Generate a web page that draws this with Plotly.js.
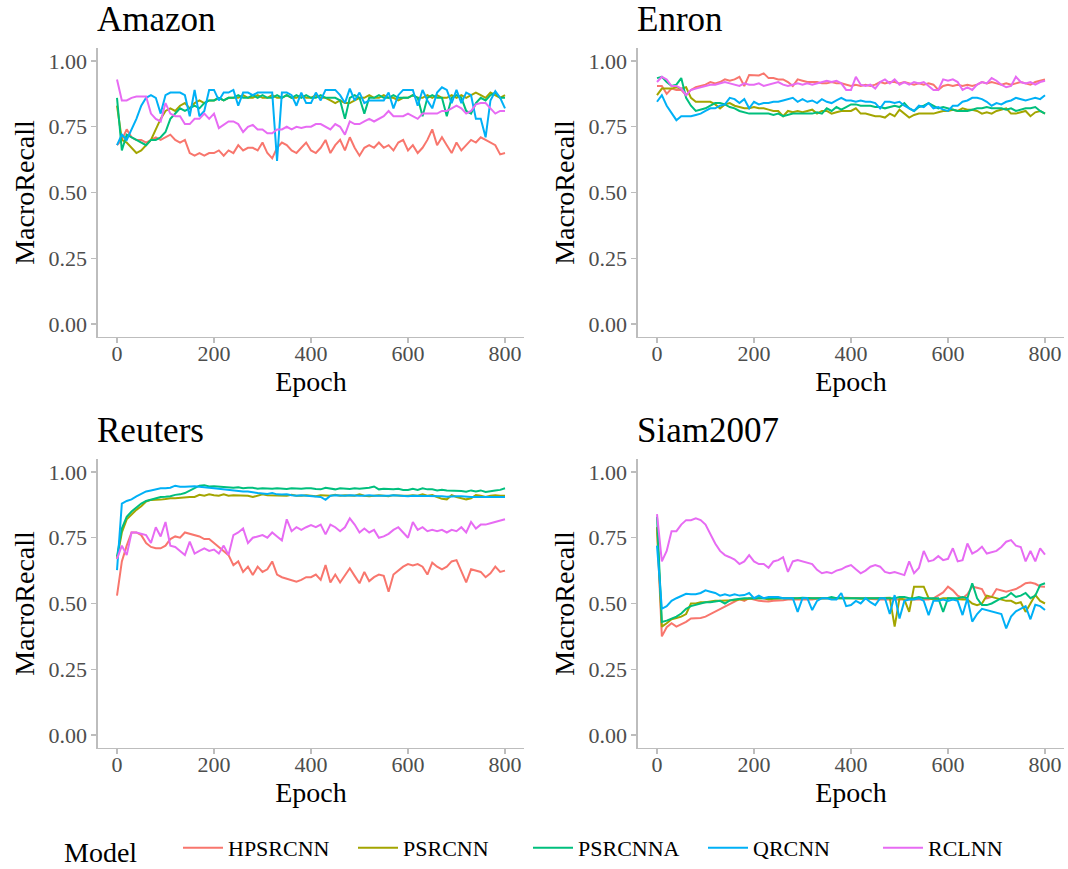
<!DOCTYPE html>
<html>
<head>
<meta charset="utf-8">
<script src="https://cdn.plot.ly/plotly-3.0.1.min.js"></script>
<style>html,body{margin:0;padding:0;background:#fff;}#chart{width:1068px;height:869px;}</style>
</head>
<body>
<div id="chart"></div>
<script>
const epochs = [0,10,20,30,40,50,60,70,80,90,100,110,120,130,140,150,160,170,180,190,200,210,220,230,240,250,260,270,280,290,300,310,320,330,340,350,360,370,380,390,400,410,420,430,440,450,460,470,480,490,500,510,520,530,540,550,560,570,580,590,600,610,620,630,640,650,660,670,680,690,700,710,720,730,740,750,760,770,780,790,800];
const models = ["HPSRCNN","PSRCNN","PSRCNNA","QRCNN","RCLNN"];
const datasets = ["Amazon","Enron","Reuters","Siam2007"];
const xTicks = [0,200,400,600,800];
const yTicks = [0,0.25,0.5,0.75,1];
const yTickText = ["0.00","0.25","0.50","0.75","1.00"];

// Amazon
const amazon_HPSRCNN = [0.68,0.70,0.74,0.71,0.70,0.70,0.69,0.70,0.71,0.70,0.71,0.72,0.70,0.69,0.70,0.65,0.64,0.65,0.64,0.65,0.65,0.66,0.64,0.66,0.65,0.68,0.66,0.67,0.67,0.66,0.69,0.65,0.63,0.67,0.69,0.68,0.66,0.65,0.67,0.69,0.66,0.65,0.67,0.70,0.65,0.68,0.70,0.66,0.71,0.67,0.64,0.67,0.68,0.67,0.69,0.67,0.68,0.66,0.69,0.70,0.66,0.68,0.65,0.67,0.70,0.74,0.68,0.71,0.68,0.65,0.69,0.66,0.68,0.70,0.69,0.71,0.70,0.69,0.68,0.645,0.65];
const amazon_PSRCNN = [0.83,0.70,0.69,0.67,0.65,0.66,0.68,0.70,0.74,0.78,0.81,0.82,0.81,0.83,0.84,0.82,0.84,0.85,0.84,0.85,0.85,0.86,0.85,0.86,0.86,0.86,0.87,0.86,0.86,0.87,0.86,0.86,0.87,0.86,0.86,0.87,0.86,0.86,0.87,0.86,0.86,0.87,0.86,0.86,0.85,0.84,0.85,0.84,0.84,0.85,0.86,0.86,0.87,0.86,0.86,0.87,0.86,0.86,0.85,0.86,0.86,0.87,0.86,0.86,0.87,0.86,0.87,0.86,0.86,0.87,0.86,0.87,0.86,0.87,0.88,0.87,0.86,0.88,0.87,0.86,0.87];
const amazon_PSRCNNA = [0.86,0.66,0.72,0.71,0.70,0.69,0.68,0.70,0.70,0.71,0.73,0.78,0.80,0.82,0.81,0.82,0.83,0.82,0.84,0.85,0.85,0.86,0.85,0.86,0.86,0.87,0.86,0.86,0.87,0.86,0.87,0.86,0.86,0.87,0.86,0.87,0.86,0.87,0.86,0.87,0.86,0.86,0.87,0.86,0.86,0.86,0.85,0.78,0.86,0.87,0.86,0.80,0.86,0.86,0.87,0.86,0.86,0.87,0.86,0.86,0.86,0.87,0.86,0.79,0.86,0.87,0.86,0.86,0.79,0.86,0.87,0.86,0.81,0.80,0.84,0.86,0.85,0.87,0.88,0.86,0.86];
const amazon_QRCNN = [0.68,0.72,0.70,0.74,0.78,0.83,0.86,0.87,0.86,0.80,0.87,0.88,0.88,0.88,0.87,0.79,0.89,0.79,0.81,0.89,0.89,0.85,0.88,0.88,0.89,0.83,0.88,0.88,0.87,0.88,0.88,0.88,0.88,0.62,0.88,0.88,0.87,0.83,0.88,0.84,0.84,0.88,0.85,0.89,0.89,0.89,0.87,0.84,0.895,0.85,0.88,0.84,0.85,0.85,0.85,0.85,0.88,0.82,0.87,0.89,0.89,0.89,0.83,0.89,0.85,0.82,0.88,0.90,0.89,0.84,0.89,0.84,0.88,0.87,0.78,0.78,0.71,0.85,0.885,0.86,0.82];
const amazon_RCLNN = [0.93,0.85,0.85,0.86,0.865,0.865,0.865,0.80,0.78,0.77,0.84,0.80,0.79,0.79,0.76,0.76,0.78,0.78,0.80,0.78,0.80,0.745,0.757,0.77,0.77,0.76,0.73,0.75,0.757,0.74,0.74,0.725,0.725,0.74,0.74,0.75,0.74,0.75,0.745,0.75,0.75,0.76,0.76,0.75,0.74,0.76,0.75,0.72,0.77,0.76,0.76,0.77,0.78,0.77,0.78,0.79,0.81,0.79,0.79,0.79,0.80,0.79,0.78,0.80,0.80,0.80,0.80,0.81,0.81,0.82,0.83,0.82,0.80,0.81,0.835,0.84,0.84,0.82,0.80,0.81,0.81];

// Enron
const enron_HPSRCNN = [0.905,0.905,0.875,0.895,0.89,0.89,0.87,0.89,0.90,0.905,0.91,0.92,0.915,0.92,0.93,0.925,0.93,0.94,0.905,0.947,0.947,0.945,0.953,0.935,0.935,0.93,0.93,0.92,0.905,0.93,0.925,0.92,0.92,0.92,0.915,0.915,0.92,0.915,0.915,0.91,0.905,0.91,0.905,0.91,0.905,0.91,0.92,0.915,0.92,0.92,0.915,0.92,0.915,0.91,0.915,0.91,0.915,0.91,0.89,0.905,0.91,0.905,0.91,0.905,0.91,0.905,0.91,0.92,0.915,0.92,0.915,0.91,0.915,0.91,0.915,0.92,0.915,0.91,0.92,0.925,0.93];
const enron_PSRCNN = [0.87,0.895,0.895,0.895,0.90,0.895,0.90,0.86,0.845,0.845,0.845,0.845,0.835,0.82,0.835,0.84,0.83,0.825,0.82,0.82,0.825,0.82,0.82,0.815,0.81,0.81,0.79,0.81,0.805,0.81,0.805,0.81,0.815,0.80,0.81,0.81,0.80,0.805,0.81,0.81,0.81,0.82,0.80,0.80,0.795,0.79,0.79,0.785,0.80,0.79,0.815,0.80,0.785,0.795,0.80,0.80,0.80,0.80,0.805,0.81,0.81,0.815,0.81,0.82,0.815,0.815,0.81,0.80,0.805,0.80,0.81,0.815,0.82,0.80,0.80,0.805,0.81,0.79,0.805,0.81,0.80];
const enron_PSRCNNA = [0.935,0.94,0.92,0.905,0.91,0.935,0.86,0.83,0.81,0.815,0.82,0.83,0.84,0.84,0.835,0.825,0.82,0.81,0.805,0.80,0.80,0.80,0.80,0.80,0.795,0.80,0.79,0.795,0.80,0.80,0.80,0.80,0.80,0.805,0.80,0.82,0.81,0.825,0.815,0.825,0.835,0.835,0.83,0.83,0.83,0.825,0.825,0.82,0.825,0.83,0.825,0.84,0.82,0.81,0.825,0.83,0.84,0.83,0.82,0.825,0.82,0.815,0.81,0.81,0.81,0.815,0.82,0.82,0.825,0.82,0.82,0.82,0.815,0.82,0.81,0.815,0.82,0.82,0.825,0.81,0.80];
const enron_QRCNN = [0.845,0.87,0.83,0.80,0.775,0.79,0.79,0.79,0.795,0.80,0.81,0.82,0.82,0.83,0.835,0.86,0.855,0.84,0.855,0.82,0.845,0.835,0.84,0.84,0.845,0.845,0.85,0.855,0.86,0.845,0.855,0.845,0.85,0.84,0.855,0.845,0.84,0.85,0.86,0.85,0.85,0.845,0.85,0.845,0.845,0.84,0.82,0.845,0.845,0.84,0.845,0.83,0.82,0.81,0.83,0.825,0.84,0.82,0.825,0.815,0.81,0.83,0.83,0.845,0.85,0.86,0.86,0.855,0.845,0.83,0.84,0.835,0.845,0.85,0.86,0.855,0.85,0.855,0.86,0.855,0.87];
const enron_RCLNN = [0.92,0.94,0.93,0.905,0.905,0.895,0.87,0.89,0.895,0.90,0.905,0.91,0.91,0.915,0.92,0.915,0.91,0.905,0.915,0.91,0.91,0.915,0.905,0.91,0.915,0.92,0.91,0.905,0.91,0.915,0.91,0.915,0.91,0.915,0.92,0.925,0.92,0.925,0.915,0.89,0.89,0.94,0.91,0.905,0.91,0.895,0.92,0.93,0.915,0.93,0.91,0.92,0.91,0.92,0.915,0.92,0.905,0.89,0.89,0.93,0.925,0.93,0.92,0.89,0.90,0.89,0.91,0.92,0.915,0.935,0.925,0.91,0.90,0.905,0.94,0.92,0.915,0.92,0.91,0.92,0.925];

// Reuters
const reuters_HPSRCNN = [0.53,0.66,0.72,0.77,0.77,0.76,0.73,0.715,0.71,0.71,0.72,0.745,0.755,0.75,0.77,0.765,0.76,0.755,0.745,0.745,0.73,0.715,0.70,0.684,0.646,0.66,0.62,0.64,0.608,0.64,0.62,0.63,0.66,0.61,0.60,0.595,0.59,0.583,0.59,0.60,0.60,0.61,0.59,0.646,0.58,0.61,0.58,0.605,0.634,0.605,0.577,0.62,0.585,0.60,0.61,0.605,0.545,0.61,0.625,0.64,0.65,0.645,0.65,0.64,0.61,0.655,0.64,0.63,0.64,0.66,0.665,0.62,0.58,0.63,0.625,0.62,0.60,0.615,0.64,0.62,0.625];
const reuters_PSRCNN = [0.67,0.77,0.82,0.84,0.856,0.87,0.888,0.894,0.894,0.895,0.897,0.90,0.90,0.902,0.904,0.905,0.905,0.913,0.91,0.915,0.912,0.91,0.915,0.91,0.912,0.912,0.91,0.91,0.905,0.91,0.915,0.912,0.912,0.91,0.912,0.91,0.913,0.91,0.91,0.912,0.91,0.908,0.912,0.91,0.91,0.913,0.91,0.912,0.91,0.91,0.915,0.91,0.908,0.91,0.912,0.91,0.908,0.912,0.91,0.91,0.91,0.912,0.91,0.915,0.91,0.912,0.905,0.898,0.896,0.912,0.905,0.90,0.896,0.90,0.912,0.91,0.905,0.91,0.912,0.91,0.91];
const reuters_PSRCNNA = [0.678,0.785,0.83,0.85,0.865,0.88,0.89,0.895,0.90,0.905,0.906,0.908,0.913,0.915,0.92,0.93,0.94,0.948,0.95,0.945,0.946,0.944,0.944,0.942,0.94,0.942,0.938,0.94,0.94,0.936,0.938,0.937,0.936,0.938,0.936,0.935,0.938,0.936,0.936,0.938,0.938,0.935,0.934,0.94,0.936,0.934,0.938,0.936,0.935,0.938,0.936,0.938,0.94,0.945,0.934,0.936,0.935,0.934,0.936,0.932,0.932,0.936,0.932,0.938,0.934,0.934,0.93,0.932,0.93,0.93,0.928,0.928,0.925,0.93,0.926,0.93,0.924,0.928,0.93,0.932,0.938];
const reuters_QRCNN = [0.627,0.88,0.89,0.896,0.907,0.915,0.926,0.93,0.935,0.938,0.938,0.94,0.948,0.944,0.944,0.946,0.946,0.944,0.943,0.94,0.938,0.936,0.934,0.93,0.93,0.928,0.926,0.926,0.922,0.92,0.918,0.916,0.92,0.915,0.914,0.915,0.912,0.91,0.912,0.91,0.91,0.908,0.905,0.894,0.91,0.912,0.91,0.91,0.912,0.91,0.91,0.91,0.912,0.91,0.91,0.908,0.91,0.912,0.91,0.91,0.908,0.91,0.91,0.908,0.91,0.91,0.91,0.908,0.906,0.908,0.908,0.908,0.906,0.905,0.905,0.906,0.905,0.905,0.905,0.905,0.905];
const reuters_RCLNN = [0.67,0.72,0.684,0.77,0.77,0.765,0.76,0.73,0.79,0.755,0.81,0.72,0.715,0.70,0.684,0.735,0.69,0.70,0.71,0.70,0.705,0.69,0.72,0.684,0.76,0.77,0.785,0.73,0.75,0.755,0.76,0.75,0.77,0.755,0.74,0.82,0.775,0.79,0.78,0.79,0.798,0.79,0.80,0.763,0.80,0.79,0.775,0.79,0.824,0.80,0.77,0.785,0.77,0.78,0.75,0.755,0.765,0.78,0.79,0.77,0.75,0.81,0.78,0.79,0.775,0.78,0.775,0.78,0.77,0.78,0.775,0.79,0.77,0.81,0.785,0.80,0.80,0.805,0.81,0.815,0.82];

// Siam2007
const siam_HPSRCNN = [0.79,0.375,0.41,0.425,0.412,0.42,0.43,0.443,0.445,0.445,0.45,0.46,0.47,0.478,0.49,0.50,0.51,0.517,0.51,0.52,0.515,0.51,0.509,0.508,0.51,0.51,0.512,0.515,0.515,0.515,0.515,0.515,0.515,0.518,0.52,0.52,0.52,0.522,0.522,0.522,0.52,0.52,0.52,0.518,0.518,0.516,0.515,0.515,0.514,0.514,0.514,0.515,0.516,0.514,0.515,0.514,0.515,0.52,0.53,0.542,0.564,0.55,0.53,0.52,0.535,0.564,0.56,0.555,0.52,0.525,0.555,0.55,0.545,0.55,0.555,0.565,0.577,0.58,0.575,0.565,0.564];
const siam_PSRCNN = [0.79,0.412,0.425,0.44,0.445,0.45,0.46,0.50,0.50,0.505,0.505,0.508,0.51,0.51,0.51,0.512,0.512,0.515,0.515,0.518,0.52,0.52,0.52,0.515,0.518,0.52,0.52,0.52,0.52,0.52,0.52,0.52,0.52,0.52,0.52,0.522,0.522,0.52,0.52,0.52,0.52,0.52,0.518,0.52,0.52,0.52,0.52,0.52,0.522,0.412,0.52,0.515,0.468,0.564,0.564,0.564,0.52,0.515,0.515,0.52,0.52,0.518,0.515,0.515,0.515,0.50,0.494,0.50,0.53,0.525,0.52,0.515,0.51,0.51,0.50,0.505,0.468,0.50,0.532,0.51,0.50];
const siam_PSRCNNA = [0.83,0.43,0.435,0.443,0.45,0.462,0.48,0.49,0.495,0.50,0.505,0.505,0.508,0.51,0.50,0.512,0.515,0.518,0.52,0.52,0.52,0.52,0.52,0.52,0.518,0.52,0.52,0.52,0.52,0.52,0.522,0.52,0.52,0.52,0.52,0.52,0.525,0.52,0.52,0.52,0.52,0.52,0.52,0.52,0.522,0.52,0.52,0.52,0.52,0.52,0.525,0.525,0.52,0.52,0.525,0.52,0.52,0.52,0.52,0.468,0.52,0.52,0.52,0.525,0.52,0.577,0.52,0.494,0.494,0.50,0.51,0.52,0.525,0.54,0.525,0.53,0.54,0.52,0.53,0.57,0.577];
const siam_QRCNN = [0.72,0.48,0.49,0.51,0.52,0.53,0.537,0.535,0.535,0.54,0.55,0.545,0.54,0.53,0.535,0.53,0.535,0.53,0.532,0.54,0.52,0.53,0.52,0.525,0.525,0.525,0.52,0.52,0.52,0.468,0.52,0.52,0.475,0.51,0.52,0.52,0.515,0.515,0.54,0.49,0.494,0.51,0.50,0.52,0.505,0.494,0.52,0.52,0.46,0.532,0.443,0.51,0.515,0.515,0.52,0.51,0.456,0.51,0.51,0.515,0.51,0.515,0.51,0.456,0.52,0.431,0.46,0.48,0.475,0.47,0.465,0.46,0.405,0.45,0.47,0.48,0.49,0.44,0.495,0.49,0.475];
const siam_RCLNN = [0.84,0.66,0.70,0.775,0.775,0.80,0.817,0.817,0.824,0.817,0.80,0.766,0.728,0.70,0.684,0.676,0.667,0.65,0.66,0.684,0.66,0.65,0.65,0.636,0.66,0.665,0.676,0.62,0.66,0.665,0.66,0.655,0.65,0.628,0.615,0.62,0.615,0.625,0.63,0.64,0.646,0.63,0.615,0.625,0.64,0.646,0.64,0.62,0.615,0.62,0.615,0.608,0.66,0.615,0.635,0.70,0.66,0.665,0.68,0.665,0.67,0.71,0.66,0.665,0.728,0.69,0.70,0.716,0.69,0.695,0.70,0.715,0.735,0.741,0.72,0.715,0.66,0.70,0.66,0.71,0.686];

const seriesByDataset = [
  [amazon_HPSRCNN, amazon_PSRCNN, amazon_PSRCNNA, amazon_QRCNN, amazon_RCLNN],
  [enron_HPSRCNN, enron_PSRCNN, enron_PSRCNNA, enron_QRCNN, enron_RCLNN],
  [reuters_HPSRCNN, reuters_PSRCNN, reuters_PSRCNNA, reuters_QRCNN, reuters_RCLNN],
  [siam_HPSRCNN, siam_PSRCNN, siam_PSRCNNA, siam_QRCNN, siam_RCLNN]
];

const colors = ["#F8766D","#A3A500","#00BF7D","#00B0F6","#E76BF3"];
const FONT = "Liberation Serif, Times New Roman, serif";
const W = 1068, H = 869;

// panel pixel boxes [x0,x1,y0(top),y1(bottom)]
const panels = [
  [97.6, 524.4, 47.85, 337.15],
  [637.6, 1064.4, 47.85, 337.15],
  [97.6, 524.4, 458.85, 748.15],
  [637.6, 1064.4, 458.85, 748.15]
];

const traces = [];
datasets.forEach((ds, p) => {
  const ax = p === 0 ? "" : String(p + 1);
  models.forEach((m, k) => {
    traces.push({
      type: "scatter", mode: "lines",
      x: epochs, y: seriesByDataset[p][k],
      xaxis: "x" + ax, yaxis: "y" + ax,
      name: m, legendgroup: m, showlegend: p === 0,
      line: {color: colors[k], width: 2},
      hoverinfo: "skip"
    });
  });
});

const layout = {
  width: W, height: H,
  margin: {l: 0, r: 0, t: 0, b: 0},
  paper_bgcolor: "#ffffff", plot_bgcolor: "#ffffff",
  font: {family: FONT, color: "#000000"},
  showlegend: true,
  legend: {
    orientation: "h",
    x: 178 / W, xanchor: "left", y: 0, yanchor: "bottom",
    font: {size: 22, family: FONT, color: "#000000"},
    itemwidth: 40, entrywidth: 120, entrywidthmode: "pixels", tracegroupgap: 0,
    bgcolor: "rgba(0,0,0,0)"
  },
  annotations: [{
    text: "Model", xref: "paper", yref: "paper",
    x: 62 / W, xanchor: "left", y: 1 - 852 / H, yanchor: "middle",
    showarrow: false, font: {size: 28, family: FONT, color: "#000000"}
  }],
  shapes: []
};

panels.forEach((b, p) => {
  const ax = p === 0 ? "" : String(p + 1);
  layout["xaxis" + ax] = {
    domain: [b[0] / W, b[1] / W],
    anchor: "y" + ax,
    range: [-40, 840],
    tickvals: xTicks, ticktext: xTicks.map(String),
    ticks: "outside", ticklen: 5, tickwidth: 1.1, tickcolor: "#BDBDBD",
    ticklabelstandoff: -9,
    showline: true, linecolor: "#BDBDBD", linewidth: 1.3,
    showgrid: false, zeroline: false,
    tickfont: {size: 22, family: FONT, color: "#4D4D4D"},
    title: {text: "Epoch", font: {size: 28, family: FONT, color: "#000000"}, standoff: 3},
    fixedrange: true
  };
  layout["yaxis" + ax] = {
    domain: [1 - b[3] / H, 1 - b[2] / H],
    anchor: "x" + ax,
    range: [-0.05, 1.05],
    tickvals: yTicks, ticktext: yTickText,
    ticks: "outside", ticklen: 5, tickwidth: 1.1, tickcolor: "#BDBDBD",
    showline: true, linecolor: "#BDBDBD", linewidth: 1.3,
    showgrid: false, zeroline: false,
    tickfont: {size: 22, family: FONT, color: "#4D4D4D"},
    title: {text: "MacroRecall", font: {size: 28, family: FONT, color: "#000000"}, standoff: 5},
    fixedrange: true
  };
  layout.annotations.push({
    text: datasets[p], xref: "paper", yref: "paper",
    x: b[0] / W, xanchor: "left", xshift: -3,
    y: 1 - (b[2] - 7) / H, yanchor: "bottom",
    showarrow: false,
    font: {size: 35, family: FONT, color: "#000000"}
  });
});

Plotly.newPlot("chart", traces, layout, {staticPlot: true, displayModeBar: false});
</script>
</body>
</html>
